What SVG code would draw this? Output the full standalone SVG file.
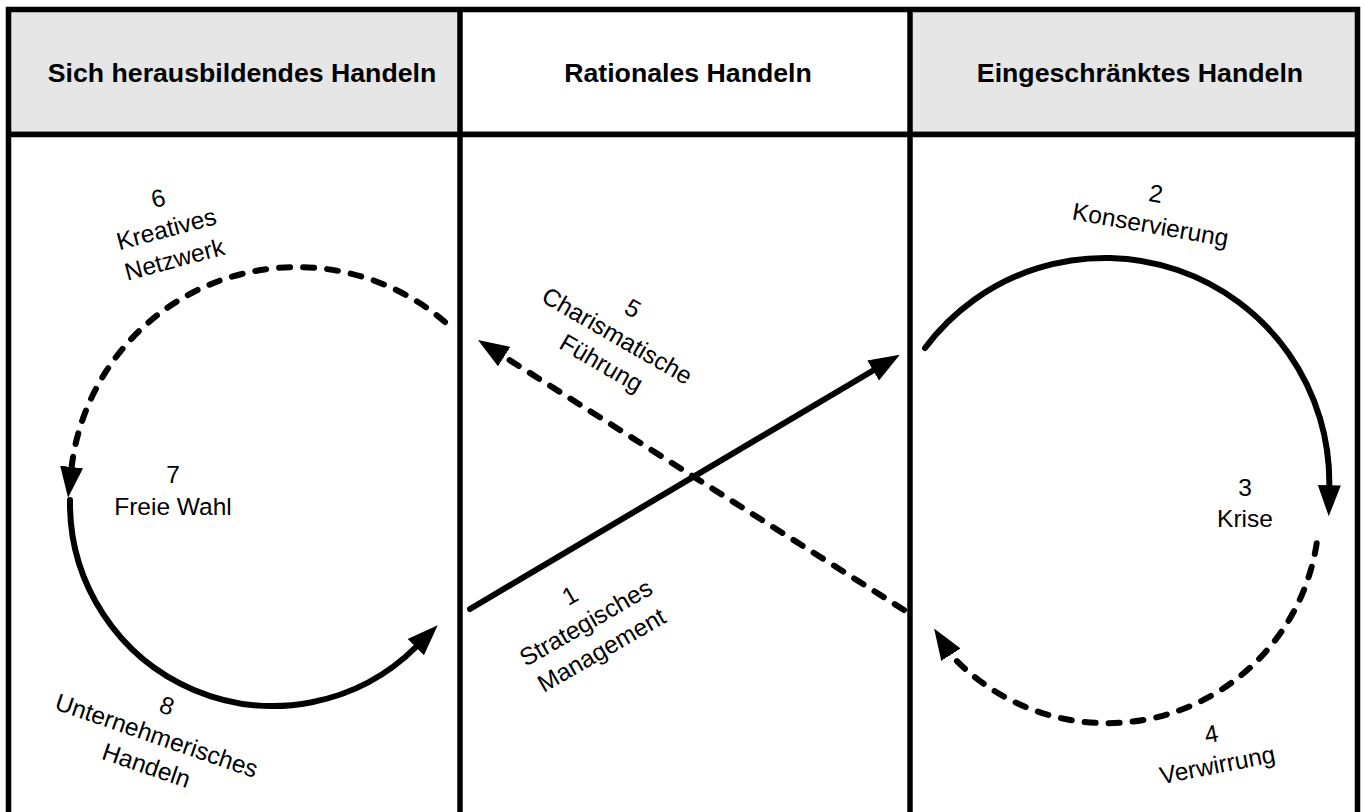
<svg xmlns="http://www.w3.org/2000/svg" width="1365" height="812" viewBox="0 0 1365 812">
<style>
.frame{fill:none;stroke:#000;stroke-width:5.5}
.conn{fill:none;stroke:#000;stroke-width:6;stroke-linecap:round}
.dash{stroke-dasharray:11 13}
.hdr{font-family:"Liberation Sans",Arial,sans-serif;font-weight:bold;font-size:26.7px;text-anchor:middle;fill:#000}
.lbl{font-family:"Liberation Sans",Arial,sans-serif;font-size:24.5px;text-anchor:middle;fill:#000}
</style>
<defs>
<marker id="ah" markerUnits="userSpaceOnUse" markerWidth="32" markerHeight="26" viewBox="0 0 32 26" refX="1" refY="13" orient="auto">
<path d="M0,1.5 L31,13 L0,24.5 z" fill="#000" stroke="none"/>
</marker>
</defs>
<rect x="0" y="0" width="1365" height="812" fill="#fff"/>
<g id="lane-emergent">
<rect x="8" y="9" width="452" height="125" fill="#e6e6e6"/>
<text class="hdr" x="242" y="82">Sich herausbildendes Handeln</text>
</g>
<g id="lane-rational">
<rect x="460" y="9" width="450" height="125" fill="#fff"/>
<text class="hdr" x="688" y="82">Rationales Handeln</text>
</g>
<g id="lane-constrained">
<rect x="910" y="9" width="448" height="125" fill="#e6e6e6"/>
<text class="hdr" x="1140" y="82">Eingeschränktes Handeln</text>
</g>
<g id="frame">
<line x1="11" y1="131.5" x2="1355" y2="131.5" stroke="#b4b4b4" stroke-width="1"/>
<rect class="frame" x="8.5" y="9.5" width="1349" height="812"/>
<line class="frame" x1="8.5" y1="134.5" x2="1357.5" y2="134.5"/>
<line class="frame" x1="460" y1="9.5" x2="460" y2="815"/>
<line class="frame" x1="910" y1="9.5" x2="910" y2="815"/>
</g>
<g id="connectors">
<path class="conn" d="M470,609 L874,370" marker-end="url(#ah)"/>
<path class="conn" d="M925,348 A224.5,224.5 0 0 1 1329.3,486.3" marker-end="url(#ah)"/>
<path class="conn dash" d="M1316.7,543.3 A212.3,212.3 0 0 1 951.5,655.5 L950.4,653.8" marker-end="url(#ah)"/>
<path class="conn dash" d="M904,610 L503.3,356.1" marker-end="url(#ah)"/>
<path class="conn dash" d="M445,322 A227,227 0 0 0 71.5,468" marker-end="url(#ah)"/>
<path class="conn" d="M70,500 A203,203 0 0 0 416.5,646.5" marker-end="url(#ah)"/>
</g>
<g id="stage-1">
<text class="lbl" transform="translate(590,630) rotate(-30)"><tspan x="0" y="-31.5">1</tspan><tspan x="0" y="0">Strategisches</tspan><tspan x="0" y="31.5">Management</tspan></text>
</g>
<g id="stage-2">
<text class="lbl" transform="translate(1149,233) rotate(10)"><tspan x="0" y="-31.5">2</tspan><tspan x="0" y="0">Konservierung</tspan></text>
</g>
<g id="stage-3">
<text class="lbl"><tspan x="1245" y="495.5">3</tspan><tspan x="1245" y="527">Krise</tspan></text>
</g>
<g id="stage-4">
<text class="lbl" transform="translate(1219,773) rotate(-11)"><tspan x="0" y="-31.5">4</tspan><tspan x="0" y="0">Verwirrung</tspan></text>
</g>
<g id="stage-5">
<text class="lbl" transform="translate(613,343) rotate(30)"><tspan x="0" y="-31.5">5</tspan><tspan x="0" y="0">Charismatische</tspan><tspan x="0" y="31.5">Führung</tspan></text>
</g>
<g id="stage-6">
<text class="lbl" transform="translate(168.5,237) rotate(-15)"><tspan x="0" y="-31.5">6</tspan><tspan x="0" y="0">Kreatives</tspan><tspan x="0" y="31.5">Netzwerk</tspan></text>
</g>
<g id="stage-7">
<text class="lbl"><tspan x="173" y="483">7</tspan><tspan x="173" y="515">Freie Wahl</tspan></text>
</g>
<g id="stage-8">
<text class="lbl" transform="translate(154,743.5) rotate(19)"><tspan x="0" y="-31.5">8</tspan><tspan x="0" y="0">Unternehmerisches</tspan><tspan x="0" y="31.5">Handeln</tspan></text>
</g>
</svg>
